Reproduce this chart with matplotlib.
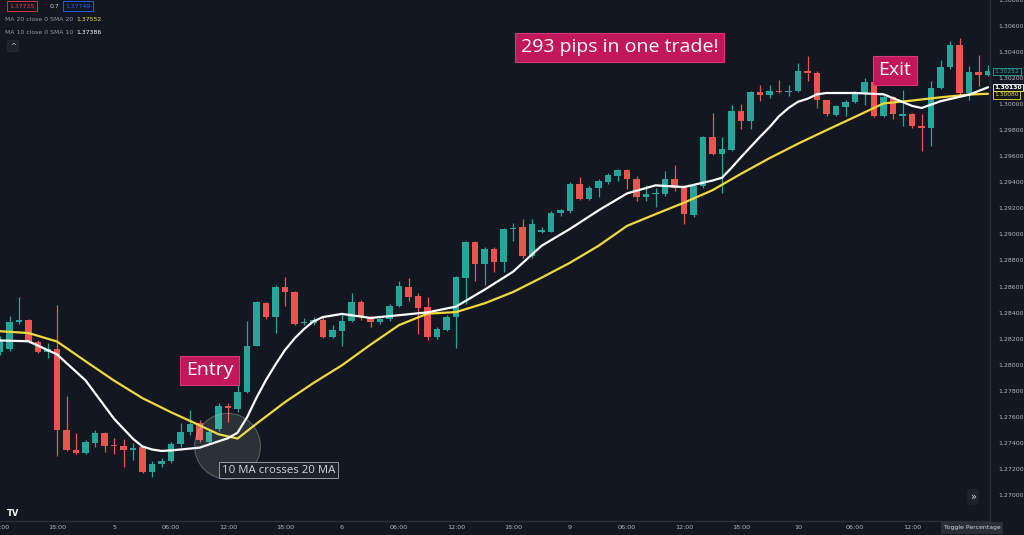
import matplotlib.pyplot as plt
import matplotlib.transforms as mtransforms
from matplotlib.patches import Ellipse

# hourly candles, 12:00 on the 4th to 20:00 on the 10th
opens = [1.28094, 1.28124, 1.28327, 1.28346, 1.28173, 1.28101, 1.28122, 1.27497, 1.27344, 1.27321,
         1.27400, 1.27476, 1.27382, 1.27375, 1.27344, 1.27369, 1.27178, 1.27234, 1.27262, 1.27390,
         1.27484, 1.27556, 1.27407, 1.27505, 1.27683, 1.27663, 1.27790, 1.28147, 1.28471, 1.28364,
         1.28599, 1.28555, 1.28318, 1.28318, 1.28344, 1.28216, 1.28262, 1.28333, 1.28479, 1.28359,
         1.28326, 1.28352, 1.28454, 1.28599, 1.28530, 1.28441, 1.28216, 1.28268, 1.28364, 1.28666,
         1.28943, 1.28773, 1.28888, 1.28785, 1.29041, 1.29058, 1.28836, 1.29022, 1.29022, 1.29168,
         1.29181, 1.29390, 1.29270, 1.29359, 1.29405, 1.29449, 1.29492, 1.29423, 1.29288, 1.29308,
         1.29313, 1.29423, 1.29372, 1.29150, 1.29372, 1.29747, 1.29619, 1.29645, 1.29946, 1.29870,
         1.30094, 1.30069, 1.30104, 1.30094, 1.30099, 1.30252, 1.30239, 1.30030, 1.29915, 1.29977,
         1.30017, 1.30086, 1.30170, 1.29908, 1.30053, 1.29913, 1.29925, 1.29831, 1.29818, 1.30124,
         1.30283, 1.30451, 1.30086, 1.30247, 1.30227]
highs = [1.28224, 1.28377, 1.28522, 1.28354, 1.28186, 1.28163, 1.28461, 1.27757, 1.27472, 1.27420,
         1.27497, 1.27484, 1.27436, 1.27426, 1.27400, 1.27375, 1.27262, 1.27280, 1.27407, 1.27553,
         1.27650, 1.27573, 1.27505, 1.27704, 1.27704, 1.27864, 1.28339, 1.28492, 1.28484, 1.28614,
         1.28675, 1.28568, 1.28362, 1.28364, 1.28364, 1.28301, 1.28390, 1.28548, 1.28499, 1.28377,
         1.28377, 1.28469, 1.28645, 1.28665, 1.28548, 1.28517, 1.28288, 1.28385, 1.28683, 1.28951,
         1.28951, 1.28900, 1.28905, 1.29053, 1.29091, 1.29117, 1.29117, 1.29058, 1.29181, 1.29194,
         1.29405, 1.29441, 1.29372, 1.29423, 1.29471, 1.29500, 1.29500, 1.29449, 1.29380, 1.29359,
         1.29487, 1.29533, 1.29380, 1.29385, 1.29755, 1.29933, 1.29747, 1.29997, 1.30002, 1.30104,
         1.30145, 1.30145, 1.30189, 1.30150, 1.30316, 1.30367, 1.30252, 1.30036, 1.29992, 1.30036,
         1.30104, 1.30201, 1.30176, 1.30074, 1.30061, 1.30112, 1.29933, 1.29921, 1.30181, 1.30342,
         1.30482, 1.30512, 1.30291, 1.30380, 1.30303]
lows = [1.28071, 1.28109, 1.28316, 1.28163, 1.28086, 1.28048, 1.27300, 1.27336, 1.27313, 1.27313,
        1.27367, 1.27331, 1.27313, 1.27211, 1.27267, 1.27170, 1.27135, 1.27216, 1.27242, 1.27369,
        1.27459, 1.27407, 1.27397, 1.27489, 1.27558, 1.27635, 1.27780, 1.28140, 1.28354, 1.28242,
        1.28454, 1.28301, 1.28301, 1.28301, 1.28206, 1.28206, 1.28147, 1.28326, 1.28346, 1.28288,
        1.28316, 1.28339, 1.28441, 1.28492, 1.28237, 1.28186, 1.28199, 1.28257, 1.28130, 1.28469,
        1.28645, 1.28614, 1.28708, 1.28708, 1.28951, 1.28823, 1.28823, 1.29012, 1.29015, 1.29142,
        1.29168, 1.29263, 1.29263, 1.29288, 1.29387, 1.29410, 1.29347, 1.29257, 1.29257, 1.29211,
        1.29295, 1.29334, 1.29079, 1.29135, 1.29359, 1.29609, 1.29321, 1.29640, 1.29806, 1.29806,
        1.30023, 1.30048, 1.30086, 1.30061, 1.30094, 1.30176, 1.29967, 1.29908, 1.29908, 1.29908,
        1.30010, 1.29997, 1.29900, 1.29900, 1.29890, 1.29831, 1.29818, 1.29640, 1.29678, 1.30120,
        1.30273, 1.30074, 1.30036, 1.30137, 1.30214]
closes = [1.28186, 1.28331, 1.28346, 1.28173, 1.28096, 1.28124, 1.27497, 1.27344, 1.27321, 1.27403,
          1.27476, 1.27377, 1.27372, 1.27344, 1.27364, 1.27178, 1.27237, 1.27262, 1.27390, 1.27484,
          1.27548, 1.27420, 1.27484, 1.27681, 1.27668, 1.27790, 1.28147, 1.28479, 1.28364, 1.28599,
          1.28555, 1.28313, 1.28326, 1.28344, 1.28216, 1.28268, 1.28339, 1.28479, 1.28364, 1.28326,
          1.28352, 1.28454, 1.28607, 1.28522, 1.28436, 1.28216, 1.28275, 1.28369, 1.28670, 1.28943,
          1.28773, 1.28888, 1.28785, 1.29041, 1.29053, 1.28836, 1.29079, 1.29033, 1.29168, 1.29186,
          1.29390, 1.29270, 1.29359, 1.29410, 1.29456, 1.29492, 1.29423, 1.29288, 1.29313, 1.29321,
          1.29423, 1.29354, 1.29155, 1.29372, 1.29747, 1.29619, 1.29653, 1.29946, 1.29870, 1.30094,
          1.30069, 1.30104, 1.30094, 1.30104, 1.30252, 1.30239, 1.30036, 1.29921, 1.29984, 1.30017,
          1.30086, 1.30170, 1.29908, 1.30053, 1.29921, 1.29925, 1.29831, 1.29818, 1.30124, 1.30283,
          1.30451, 1.30086, 1.30247, 1.30222, 1.30252]

# moving averages (bar index -> value)
ma10_idx = [0, 3, 6, 9, 12, 14, 15, 16, 17, 18, 19, 21, 24, 25, 26, 27, 28, 29, 30, 31, 32, 33, 34,
            36, 39, 42, 45, 48, 51, 54, 57, 60, 63, 66, 69, 72, 75, 76, 77, 78, 79, 80, 81, 82, 83,
            84, 85, 86, 87, 90, 93, 96, 97, 99, 102, 104]
ma10 = [1.28186, 1.28180, 1.28079, 1.27880, 1.27585, 1.27431, 1.27372, 1.27349, 1.27338, 1.27342,
        1.27349, 1.27363, 1.27436, 1.27478, 1.27596, 1.27747, 1.27883, 1.28002, 1.28113, 1.28201,
        1.28274, 1.28333, 1.28366, 1.28390, 1.28359, 1.28380, 1.28402, 1.28446, 1.28576, 1.28714,
        1.28913, 1.29043, 1.29185, 1.29315, 1.29377, 1.29364, 1.29414, 1.29436, 1.29512, 1.29594,
        1.29672, 1.29750, 1.29824, 1.29908, 1.29971, 1.30019, 1.30042, 1.30076, 1.30086, 1.30086,
        1.30076, 1.29987, 1.29971, 1.30023, 1.30073, 1.30130]
ma20_idx = [0, 3, 6, 9, 12, 15, 18, 21, 23, 25, 27, 30, 33, 36, 39, 42, 45, 48, 51, 54, 57, 60, 63,
            66, 69, 72, 75, 78, 81, 84, 87, 90, 93, 96, 99, 102, 104]
ma20 = [1.28257, 1.28243, 1.28178, 1.28027, 1.27878, 1.27743, 1.27635, 1.27535, 1.27466, 1.27433,
        1.27547, 1.27713, 1.27860, 1.27996, 1.28154, 1.28304, 1.28392, 1.28404, 1.28471, 1.28558,
        1.28668, 1.28783, 1.28913, 1.29066, 1.29156, 1.29244, 1.29340, 1.29466, 1.29586, 1.29697,
        1.29801, 1.29903, 1.30006, 1.30028, 1.30053, 1.30074, 1.30080]

time_idx = [0, 6, 12, 18, 24, 30, 36, 42, 48, 54, 60, 66, 72, 78, 84, 90, 96]
time_labels = ["12:00", "18:00", "5", "06:00", "12:00", "18:00", "6", "06:00", "12:00", "18:00",
               "9", "06:00", "12:00", "18:00", "10", "06:00", "12:00"]
price_ticks = [1.27000, 1.27200, 1.27400, 1.27600, 1.27800, 1.28000, 1.28200, 1.28400, 1.28600,
               1.28800, 1.29000, 1.29200, 1.29400, 1.29600, 1.29800, 1.30000, 1.30200, 1.30400,
               1.30600, 1.30800]

BG = "#131722"
UP = "#26a69a"
DOWN = "#ef5350"
GREY = "#b2b5be"
PINK = "#c2185b"
YELLOW = "#f2d83b"
FONT = ["Open Sans", "DejaVu Sans"]

W, H = 1024, 535
fig = plt.figure(figsize=(W / 100, H / 100), dpi=100, facecolor=BG)
ax = fig.add_axes([0, 14 / H, 990 / W, 521 / H], facecolor=BG)
ax.set_xlim(0.21, 104.2)
ax.set_ylim(1.26800, 1.30788)

idx = list(range(len(opens)))
cols = [UP if c >= o else DOWN for o, c in zip(opens, closes)]
bottoms = [min(o, c) for o, c in zip(opens, closes)]
heights = [max(abs(c - o), 0.000015) for o, c in zip(opens, closes)]
ax.vlines(idx, lows, highs, colors=cols, lw=0.9, zorder=2)
ax.bar(idx, heights, bottom=bottoms, width=0.7, color=cols, lw=0, zorder=3)

ax.plot(ma20_idx, ma20, color=YELLOW, lw=1.6, zorder=4, solid_capstyle="round", solid_joinstyle="round")
ax.plot(ma10_idx, ma10, color="white", lw=1.6, zorder=5, solid_capstyle="round", solid_joinstyle="round")

# axes look
for side in ["top", "left"]:
    ax.spines[side].set_visible(False)
for side in ["right", "bottom"]:
    ax.spines[side].set_color("#2a2e39")
    ax.spines[side].set_linewidth(1)
ax.yaxis.tick_right()
ax.set_yticks(price_ticks)
ax.set_yticklabels([f"{p:.5f}" for p in price_ticks])
ax.set_xticks(time_idx)
ax.set_xticklabels(time_labels)
ax.tick_params(axis="y", length=0, pad=6, labelsize=4.5, labelcolor=GREY)
ax.tick_params(axis="x", length=0, pad=3, labelsize=4.6, labelcolor=GREY)

# last value tags on the price scale
tr = mtransforms.blended_transform_factory(ax.transAxes, ax.transData)
tags = [(closes[-1], UP, "normal", 0), (ma10[-1], "white", "bold", 0), (ma20[-1], YELLOW, "normal", -0.00008)]
for val, tc, fw, off in tags:
    ax.text(1.0045, val + off, f"{val:.5f}", transform=tr, fontsize=4.3, color=tc, fontweight=fw,
            va="center", ha="left", clip_on=False, zorder=10,
            bbox=dict(boxstyle="square,pad=0.2", fc=BG, ec=tc, lw=0.6))

# annotations
box = dict(boxstyle="square,pad=0.3", fc=PINK, ec="#d6377a", lw=0.8)
ax.text(65.2, 1.30436, "293 pips in one trade!", fontsize=14, color="white", family=FONT,
        ha="center", va="center", bbox=box, zorder=8)
ax.text(22.05, 1.27956, "Entry", fontsize=14, color="white", family=FONT,
        ha="center", va="center", bbox=box, zorder=8)
ax.text(94.2, 1.30260, "Exit", fontsize=14, color="white", family=FONT,
        ha="center", va="center", bbox=box, zorder=8)
ax.add_patch(Ellipse((23.95, 1.27374), 66 / 9.52, 66 * 7.654e-5, fc=(0.78, 0.9, 0.8, 0.13),
                     ec=(0.8, 0.9, 0.85, 0.3), lw=0.8, zorder=6))
ax.text(29.3, 1.27191, "10 MA crosses 20 MA", fontsize=8.2, color="#d1d4dc", family=FONT,
        ha="center", va="center", zorder=8,
        bbox=dict(boxstyle="square,pad=0.25", fc="#1e222d", ec="#9598a1", lw=0.7))


def px(x, y):
    return x / W, 1 - y / H


# legend block top-left
fig.text(*px(22, 6), "1.37735", fontsize=4.4, color="#f23645", ha="center", va="center",
         bbox=dict(boxstyle="square,pad=0.35", fc=BG, ec="#f23645", lw=0.6))
fig.text(*px(50, 6), "0.7", fontsize=4.4, color="#d1d4dc", ha="left", va="center")
fig.text(*px(78, 6), "1.37749", fontsize=4.4, color="#2962ff", ha="center", va="center",
         bbox=dict(boxstyle="square,pad=0.35", fc=BG, ec="#2962ff", lw=0.6))
fig.text(*px(5, 19.5), "MA 20 close 0 SMA 20", fontsize=4.4, color="#9598a1", ha="left", va="center")
fig.text(*px(76, 19.5), "1.37552", fontsize=4.4, color=YELLOW, ha="left", va="center")
fig.text(*px(5, 33), "MA 10 close 0 SMA 10", fontsize=4.4, color="#9598a1", ha="left", va="center")
fig.text(*px(76, 33), "1.37386", fontsize=4.4, color="white", ha="left", va="center")
fig.text(*px(13, 46), "^", fontsize=5, color="#d1d4dc", ha="center", va="center",
         bbox=dict(boxstyle="round,pad=0.4", fc="#1e222d", ec="#2a2e39", lw=0.5))

# chart chrome
fig.text(*px(13, 514), "TV", fontsize=6, color="white", fontweight="bold", ha="center", va="center")
fig.text(*px(973, 497), "»", fontsize=7, color="#d1d4dc", ha="center", va="center",
         bbox=dict(boxstyle="round,pad=0.3", fc="#1e222d", ec="none"))
fig.text(*px(972, 528), "Toggle Percentage", fontsize=4.4, color="#d1d4dc", ha="center", va="center",
         bbox=dict(boxstyle="square,pad=0.5", fc="#2a2e39", ec="none"))

fig.savefig("out.png", dpi=100, facecolor=BG)
